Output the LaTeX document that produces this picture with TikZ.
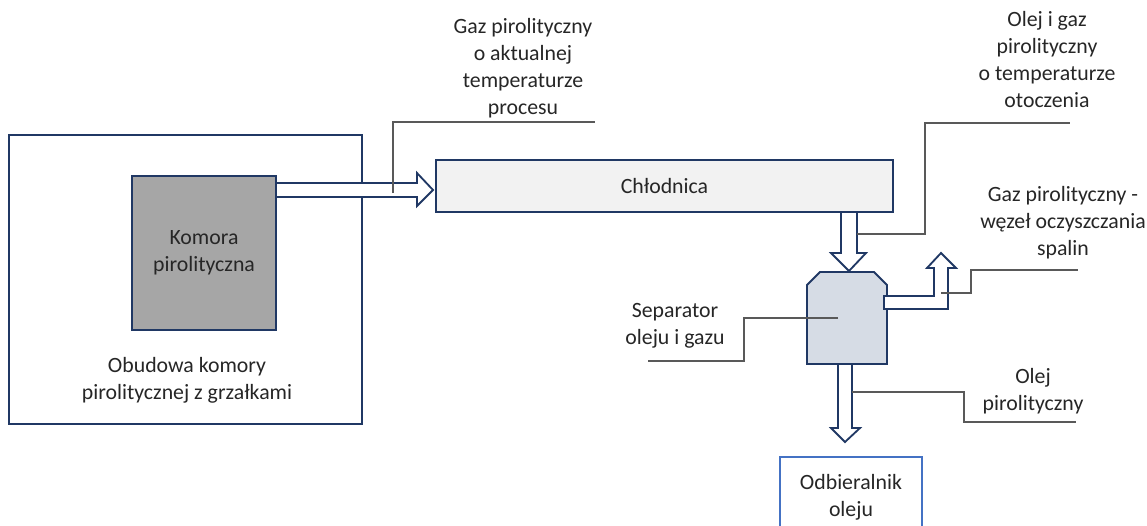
\documentclass[tikz,border=0pt]{standalone}
\usepackage{fontspec}
\setmainfont{Carlito}
\usetikzlibrary{positioning}

\definecolor{navy}{HTML}{203864}
\definecolor{komgray}{HTML}{A6A6A6}
\definecolor{coolgray}{HTML}{F2F2F2}
\definecolor{sepblue}{HTML}{D6DCE5}
\definecolor{recvblue}{HTML}{4472C4}
\definecolor{leadgray}{HTML}{595959}
\definecolor{txtcol}{HTML}{262626}

\begin{document}
\begin{tikzpicture}[x=0.025cm, y=-0.025cm,
    box/.style={draw=navy, line width=1.3pt},
    pipe/.style={draw=navy, line width=1.3pt, fill=white, line join=miter},
    lead/.style={draw=leadgray, line width=0.9pt},
    txt/.style={align=center, text=txtcol, font=\fontsize{15.5}{19.2}\selectfont}]
    \clip (0,0) rectangle (1147,526);

    \node[box, minimum width=8.825cm, minimum height=7.225cm] (housing) at (185.5,279.5) {};
    \node[txt] (housingtxt) at (187,380) {Obudowa komory\\pirolitycznej z grzałkami};

    \draw[pipe] (275,183) -- (417,183) -- (417,173) -- (433,190) -- (417,206) -- (417,197) -- (275,197);
    \draw[pipe] (841,211) -- (841,253) -- (831,253) -- (849,271) -- (866,253) -- (857,253) -- (857,211);
    \draw[pipe] (838,363) -- (838,428) -- (831,428) -- (845,442) -- (860,428) -- (852,428) -- (852,363);

    \node[box, fill=komgray, minimum width=3.6cm, minimum height=3.85cm, txt] (komora) at (204,253) {Komora\\pirolityczna};
    \node[box, fill=coolgray, minimum width=11.425cm, minimum height=1.3cm, txt] (cooler) at (664.5,186) {Chłodnica};

    \draw[box, fill=sepblue] (807,285) -- (820,272) -- (874,272) -- (887,285) -- (887,364) -- (807,364) -- cycle;
    \coordinate (separator) at (838,318);
    \draw[pipe] (884,296) -- (934,296) -- (934,268) -- (927,268) -- (941,253) -- (956,268) -- (948,268) -- (948,309) -- (884,309) -- cycle;

    \draw[recvblue, line width=1pt] (780,530) |- (922,457) -- (922,530);
    \node[txt] (receiver) at (851,497) {Odbieralnik\\oleju};

    \node[txt] (gastxt) at (523,68) {Gaz pirolityczny\\o aktualnej\\temperaturze\\procesu};
    \node[txt] (mixtxt) at (1047,60) {Olej i gaz\\pirolityczny\\o temperaturze\\otoczenia};
    \node[txt] (fluetxt) at (1063,223) {Gaz pirolityczny -\\węzeł oczyszczania\\spalin};
    \node[txt] (septxt) at (675,326) {Separator\\oleju i gazu};
    \node[txt] (oiltxt) at (1033,391) {Olej\\pirolityczny};

    \coordinate (gasfrom) at (393,193);
    \coordinate (gasto) at (595,122);
    \coordinate (mixfrom) at (857,234);
    \coordinate (mixto) at (1070,123);
    \coordinate (fluefrom) at (941,293);
    \coordinate (flueto) at (1078,270);
    \coordinate (septo) at (648,361);
    \coordinate (oilfrom) at (852,392);
    \coordinate (oilto) at (1076,422);

    \draw[lead] (gasfrom) |- (gasto);
    \draw[lead] (mixfrom) -- (925,234) |- (mixto);
    \draw[lead] (fluefrom) -- (971,293) |- (flueto);
    \draw[lead] (separator) -- (744,318) |- (septo);
    \draw[lead] (oilfrom) -- (964,392) |- (oilto);
\end{tikzpicture}
\end{document}
